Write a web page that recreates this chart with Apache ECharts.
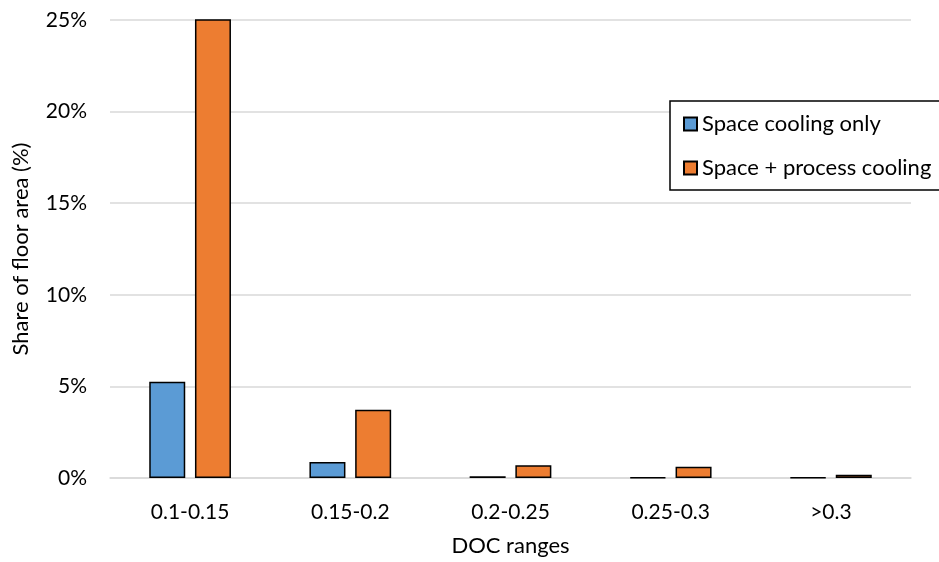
<!DOCTYPE html>
<html>
<head>
<meta charset="utf-8">
<script src="https://cdn.jsdelivr.net/npm/echarts@6/dist/echarts.min.js"></script>
<style>html,body{margin:0;padding:0;background:#fff;}#c{width:939px;height:562px;}</style>
</head>
<body>
<div id="c"></div>
<script>
var categories = ['0.1-0.15', '0.15-0.2', '0.2-0.25', '0.25-0.3', '>0.3'];
var spaceOnly = [5.25, 0.87, 0.09, 0.04, 0.03];
var spaceProcess = [27, 3.72, 0.69, 0.61, 0.18];
var seriesNames = ['Space cooling only', 'Space + process cooling'];
var yTicks = [0, 5, 10, 15, 20, 25];

var FONT = 'Lato';
var chart = echarts.init(document.getElementById('c'), null, {renderer: 'canvas'});
chart.setOption({
  animation: false,
  backgroundColor: '#ffffff',
  textStyle: {fontFamily: FONT},
  grid: {left: 110, right: 28, top: 20, bottom: 80, containLabel: false},
  legend: {
    orient: 'vertical',
    left: 670,
    top: 101,
    padding: [12, 30, 11, 13],
    itemGap: 22,
    itemWidth: 13,
    itemHeight: 13,
    borderColor: '#000',
    borderWidth: 1.5,
    borderRadius: 0,
    backgroundColor: '#fff',
    textStyle: {fontFamily: FONT, fontSize: 22, color: '#000', lineHeight: 22},
    data: seriesNames.map(function (n) { return {name: n, icon: 'rect'}; })
  },
  xAxis: {
    type: 'category',
    data: categories,
    name: 'DOC ranges',
    nameLocation: 'middle',
    nameGap: 57,
    nameTextStyle: {fontFamily: FONT, fontSize: 22, color: '#000'},
    axisLine: {show: true, lineStyle: {color: '#d9d9d9', width: 1.5}},
    axisTick: {show: false},
    axisLabel: {fontFamily: FONT, fontSize: 21, color: '#000', margin: 24}
  },
  yAxis: {
    type: 'value',
    min: yTicks[0],
    max: yTicks[yTicks.length - 1],
    interval: 5,
    name: 'Share of floor area (%)',
    nameLocation: 'middle',
    nameGap: 78,
    nameRotate: 90,
    nameTextStyle: {fontFamily: FONT, fontSize: 22, color: '#000'},
    axisLine: {show: false},
    axisTick: {show: false},
    axisLabel: {fontFamily: FONT, fontSize: 21, color: '#000', margin: 23, formatter: '{value}%'},
    splitLine: {show: true, lineStyle: {color: '#d9d9d9', width: 1.5}}
  },
  series: [
    {
      name: seriesNames[0],
      type: 'bar',
      data: spaceOnly,
      barWidth: 36,
      barGap: '27%',
      clip: true,
      itemStyle: {color: '#5B9BD5', borderColor: '#000', borderWidth: 1.5}
    },
    {
      name: seriesNames[1],
      type: 'bar',
      data: spaceProcess,
      barWidth: 36,
      barGap: '27%',
      clip: true,
      itemStyle: {color: '#ED7D31', borderColor: '#000', borderWidth: 1.5}
    }
  ]
});
</script>
</body>
</html>
